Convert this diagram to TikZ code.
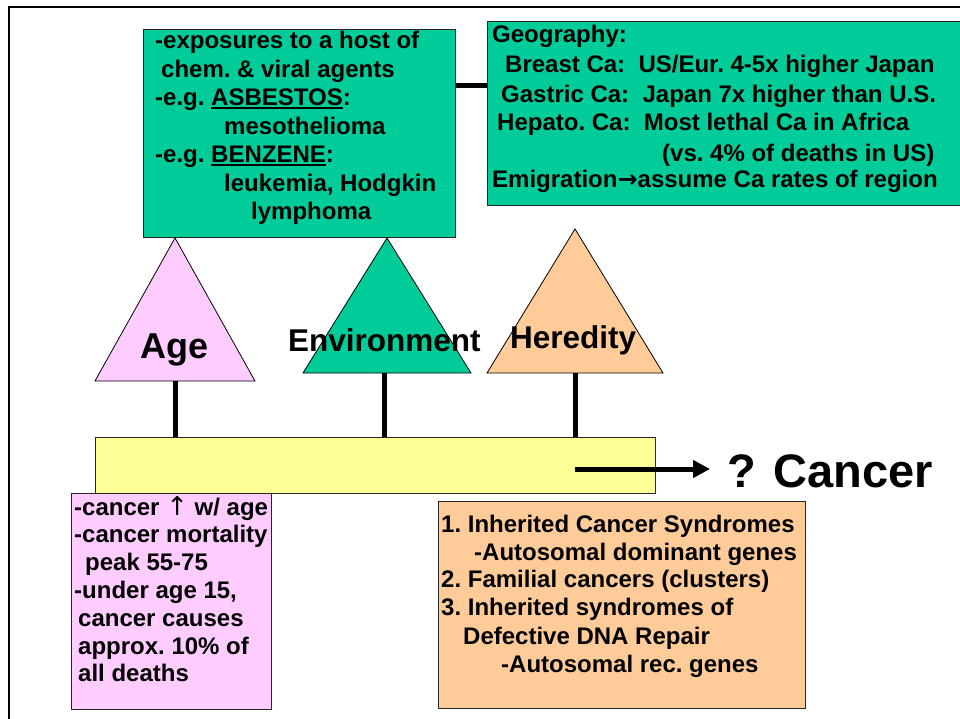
\documentclass[tikz,border=0pt]{standalone}
\usepackage{fontspec}
\setmainfont{Liberation Sans}
\newfontfamily\symfont{DejaVu Sans}
\usetikzlibrary{arrows.meta}
\definecolor{tgreen}{HTML}{00CC99}
\definecolor{tpink}{HTML}{FFCCFF}
\definecolor{tpeach}{HTML}{FFCC99}
\definecolor{tyellow}{HTML}{FFFF99}
\newcommand\myul[1]{\sbox0{#1}\rlap{\rule[-3pt]{\wd0}{2pt}}\usebox0}
\begin{document}
\begin{tikzpicture}[x=1pt,y=-1pt,
  txt/.style={anchor=base west, inner sep=0pt, font=\fontsize{24}{28}\selectfont\bfseries\frenchspacing},
  big/.style={inner sep=0pt, font=\fontsize{#1}{#1}\selectfont\bfseries},
  box/.style={draw=black!85, line width=0.9pt, anchor=north west, inner sep=0pt},
  tri/.style={draw=black, line width=0.8pt, line join=miter},
  link/.style={line width=5pt},
  frame/.style={line width=2pt}]
\useasboundingbox (0,0) rectangle (960,719);
\clip (0,0) rectangle (960,719);
\fill[white] (0,0) rectangle (960,719);
% frame
\coordinate (fbl) at (9,722);
\coordinate (ftl) at (9,7);
\coordinate (ftr) at (965,7);
\draw[frame] (fbl) -- (ftl) -- (ftr);

% boxes
\node[box, fill=tgreen, minimum width=312pt, minimum height=208pt] (envbox) at (143,29) {};
\node[box, fill=tgreen, minimum width=480pt, minimum height=184pt] (geobox) at (487,21) {};
\draw[link] (envbox.east |- 0,85.5) -- (geobox.west |- 0,85.5);

% triangles
\coordinate (agetop) at (175,238);
\coordinate (agebl) at (95,381);
\coordinate (agebr) at (255,381);
\coordinate (agebase) at (175,381);
\coordinate (envtop) at (387,238);
\coordinate (envbl) at (303,373);
\coordinate (envbr) at (471,373);
\coordinate (envbase) at (384,373);
\coordinate (hertop) at (575,229);
\coordinate (herbl) at (487,373);
\coordinate (herbr) at (663,373);
\coordinate (herbase) at (575,373);
\draw[tri, fill=tpink] (agetop) -- (agebl) -- (agebr) -- cycle;
\draw[tri, fill=tgreen] (envtop) -- (envbl) -- (envbr) -- cycle;
\draw[tri, fill=tpeach] (hertop) -- (herbl) -- (herbr) -- cycle;

% bar
\node[box, fill=tyellow, minimum width=560pt, minimum height=56pt] (bar) at (95,437) {};
\draw[link] (agebase) -- (bar.north -| agebase);
\draw[link] (envbase) -- (bar.north -| envbase);
\draw[link] (herbase) -- (bar.north -| herbase);

% labels
\node[big=36, anchor=base] (agelbl) at (175,358) {Age};
\node[big=31.5, anchor=base west] (envlbl) at (288,351) {Environment};
\node[big=31.5, anchor=base west] (herlbl) at (510,348) {Heredity};
\node[big=47, anchor=base west] (cancer) at (727,487) {? Cancer};

% arrow
\coordinate (arrstart) at (575,469);
\coordinate (arrtip) at (710,469);
\draw[link, -{Triangle[length=17pt,width=17pt]}] (arrstart) -- (arrtip);

% lower boxes
\node[box, fill=tpink, minimum width=200pt, minimum height=216pt] (agebox) at (71,493) {};
\node[box, fill=tpeach, minimum width=367pt, minimum height=207pt] (herbox) at (438,501) {};

% environment box text
\node[txt] (e1) at (155,49) {-exposures to a host of};
\node[txt] (e2) at (161,77.5) {chem. \& viral agents};
\node[txt] (e3) at (155,106) {-e.g. \myul{ASBESTOS}:};
\node[txt] (e4) at (224,134.5) {mesothelioma};
\node[txt] (e5) at (155,163) {-e.g. \myul{BENZENE}:};
\node[txt] (e6) at (224,191.5) {leukemia, Hodgkin};
\node[txt] (e7) at (251,220) {lymphoma};

% geography box text
\node[txt] (g1) at (492,43) {Geography:};
\node[txt] (g2) at (505,73) {Breast Ca:\ \ US/Eur. 4-5x higher Japan};
\node[txt] (g3) at (501,103) {Gastric Ca:\ \ Japan 7x higher than U.S.};
\node[txt] (g4) at (497,131) {Hepato. Ca:\ \ Most lethal Ca in Africa};
\node[txt] (g5) at (662,162) {(vs. 4\% of deaths in US)};
\node[txt] (g6) at (492,188) {Emigration{\symfont →}assume Ca rates of region};

% age box text
\node[txt] (a1) at (74,515) {-cancer {\symfont\mdseries\fontsize{26}{28}\selectfont ↑} w/ age};
\node[txt] (a2) at (74,542.8) {-cancer mortality};
\node[txt] (a3) at (85,570.6) {peak 55-75};
\node[txt] (a4) at (74,598.4) {-under age 15,};
\node[txt] (a5) at (78,626.2) {cancer causes};
\node[txt] (a6) at (78,654) {approx. 10\% of};
\node[txt] (a7) at (78,681.8) {all deaths};

% heredity box text
\node[txt] (h1) at (441,532) {1. Inherited Cancer Syndromes};
\node[txt] (h2) at (474,560) {-Autosomal dominant genes};
\node[txt] (h3) at (441,587) {2. Familial cancers (clusters)};
\node[txt] (h4) at (441,615) {3. Inherited syndromes of};
\node[txt] (h5) at (463,644) {Defective DNA Repair};
\node[txt] (h6) at (501,672) {-Autosomal rec. genes};
\end{tikzpicture}
\end{document}
